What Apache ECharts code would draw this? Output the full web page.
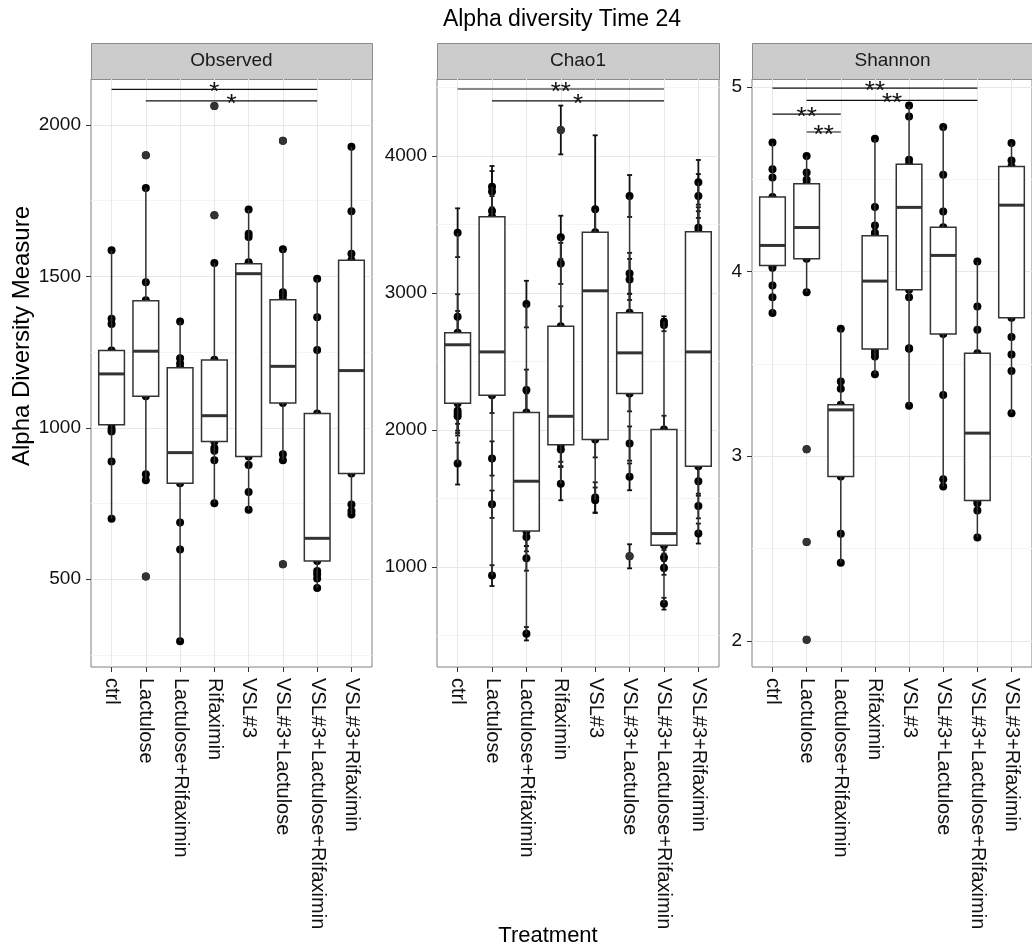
<!DOCTYPE html>
<html>
<head>
<meta charset="utf-8">
<script src="https://cdn.jsdelivr.net/npm/echarts@6/dist/echarts.min.js"></script>
<style>
  html, body { margin: 0; padding: 0; background: #fff; }
  #chart { width: 1032px; height: 949px; }
</style>
</head>
<body>
<div id="chart"></div>
<script>
// treatments, same order in every panel
var categories = ['ctrl', 'Lactulose', 'Lactulose+Rifaximin', 'Rifaximin', 'VSL#3',
                  'VSL#3+Lactulose', 'VSL#3+Lactulose+Rifaximin', 'VSL#3+Rifaximin'];

// box stats: [lower whisker, Q1, median, Q3, upper whisker]
var obsBox = [[700,1010,1178,1255,1586],[827,1104,1253,1420,1792],[295,817,918,1198,1351],[751,955,1040,1224,1544],
              [729,905,1509,1542,1721],[893,1082,1203,1423,1590],[471,560,635,1047,1492],[714,849,1189,1553,1928]];
var obsPts = [[1586,1360,1343,1255,1010,996,988,889,700],[1792,1481,1421,1253,1104,847,827],
              [1351,1230,1212,1198,817,687,598,295],[1544,1225,955,933,924,893,751],
              [1721,1641,1630,1547,1542,905,877,788,729],[1590,1448,1437,1423,1082,913,893],
              [1492,1365,1257,1047,560,527,516,502,471],[1928,1715,1575,1553,849,747,725,714]];
var obsOut = [[],[1900,509],[],[2063,1702],[],[1948,549],[],[]];

var chaoBox = [[1755,2195,2622,2709,3440],[937,2254,2570,3557,3776],[513,1263,1626,2128,2919],[1608,1893,2100,2758,3406],
               [1487,1930,3016,3443,3611],[1658,2266,2563,2855,3708],[732,1158,1244,2004,2790],[1244,1736,2570,3447,3808]];
// chao1 points: [value, se]
var chaoPts = [[[3440,178],[2826,165],[2709,160],[2195,150],[2140,145],[2118,140],[2100,140],[1755,153]],
               [[3776,151],[3740,150],[3598,150],[3557,150],[2254,130],[1792,125],[1458,100],[937,76]],
               [[2919,170],[2291,150],[2128,140],[1263,110],[1219,105],[1063,90],[513,49]],
               [[3406,158],[3216,150],[2758,145],[1893,125],[1857,120],[1608,121]],
               [[3611,540],[3443,160],[1930,130],[1508,110],[1487,93]],
               [[3708,153],[3143,150],[3099,150],[2855,140],[2266,130],[1901,125],[1658,98]],
               [[2790,40],[2766,45],[2004,100],[1158,60],[1069,55],[993,50],[732,43]],
               [[3808,163],[3708,160],[3476,150],[3447,150],[1736,110],[1625,105],[1445,90],[1244,73]]];
var chaoOut = [[],[],[],[[4190,178]],[],[[1078,88]],[],[]];

var shanBox = [[3.775,4.032,4.141,4.403,4.698],[3.888,4.069,4.238,4.475,4.625],[2.424,2.89,3.251,3.278,3.69],
               [3.444,3.58,3.948,4.193,4.718],[3.273,3.901,4.347,4.581,4.899],[2.836,3.661,4.087,4.24,4.782],
               [2.56,2.76,3.125,3.558,4.054],[3.233,3.749,4.359,4.568,4.695]];
var shanPts = [[4.698,4.554,4.509,4.403,4.032,4.02,3.924,3.861,3.775],[4.625,4.536,4.496,4.475,4.069,3.888],
               [3.69,3.404,3.365,3.278,2.89,2.58,2.424],[4.718,4.349,4.249,4.21,4.193,3.58,3.56,3.54,3.444],
               [4.899,4.839,4.605,4.581,3.901,3.861,3.585,3.582,3.273],[4.782,4.524,4.325,4.24,3.661,3.332,2.876,2.836],
               [4.054,3.81,3.684,3.558,2.76,2.746,2.706,2.56],[4.695,4.601,4.568,3.749,3.645,3.55,3.462,3.233]];
var shanOut = [[],[3.038,2.535,2.006],[],[],[],[],[],[]];

// significance brackets: [from category, to category, height], labels alongside
var obsSig = [[0,6,2118],[1,6,2080]];
var obsSigLbl = ['*','*'];
var chaoSig = [[0,6,4489],[1,6,4402]];
var chaoSigLbl = ['**','*'];
var shanSig = [[0,6,4.993],[1,6,4.926],[0,2,4.852],[1,2,4.755]];
var shanSigLbl = ['**','**','**','**'];

var yRanges = [[210,2152],[270,4562],[1.859,5.042]];
var yTicks = [[500,1000,1500,2000],[1000,2000,3000,4000],[2,3,4,5]];
var ySplit = [4,5,3];
var panelNames = ['Observed','Chao1','Shannon'];

var FONT = 'Liberation Sans, Arial, Helvetica, sans-serif';
var TOP = 79, HEIGHT = 588;
var panels = [{left:91, width:281},{left:437, width:282},{left:752, width:281}];

function boxData(box) {
  return box.map(function(b, i) { return [i].concat(b); });
}
function ptData(pts) {
  var out = [];
  pts.forEach(function(list, i) {
    list.forEach(function(v) { out.push(Array.isArray(v) ? [i, v[0], v[1]] : [i, v]); });
  });
  return out;
}

function renderBox(params, api) {
  var x = api.value(0);
  var lo = api.coord([x, api.value(1)]);
  var q1 = api.coord([x, api.value(2)]);
  var md = api.coord([x, api.value(3)]);
  var q3 = api.coord([x, api.value(4)]);
  var hi = api.coord([x, api.value(5)]);
  var w = api.size([0.75, 0], [x, api.value(3)])[0];
  var cx = lo[0];
  var st = {stroke:'#333', lineWidth:1.5};
  return {type:'group', children:[
    {type:'line', shape:{x1:cx, y1:hi[1], x2:cx, y2:q3[1]}, style:st},
    {type:'line', shape:{x1:cx, y1:q1[1], x2:cx, y2:lo[1]}, style:st},
    {type:'rect', shape:{x:cx - w/2, y:q3[1], width:w, height:q1[1] - q3[1]},
     style:{fill:'#fff', stroke:'#333', lineWidth:1.5}},
    {type:'line', shape:{x1:cx - w/2, y1:md[1], x2:cx + w/2, y2:md[1]}, style:{stroke:'#333', lineWidth:3}}
  ]};
}

function renderErr(params, api) {
  var x = api.value(0), v = api.value(1), se = api.value(2);
  var t = api.coord([x, v + se]), b = api.coord([x, v - se]);
  var st = {stroke:'#111', lineWidth:1.8};
  return {type:'group', children:[
    {type:'line', shape:{x1:t[0], y1:t[1], x2:b[0], y2:b[1]}, style:st},
    {type:'line', shape:{x1:t[0]-2.5, y1:t[1], x2:t[0]+2.5, y2:t[1]}, style:st},
    {type:'line', shape:{x1:b[0]-2.5, y1:b[1], x2:b[0]+2.5, y2:b[1]}, style:st}
  ]};
}

function sigRenderer(labels) {
  return function(params, api) {
    var a = api.coord([api.value(0), api.value(2)]);
    var b = api.coord([api.value(1), api.value(2)]);
    var fs = 26;
    return {type:'group', children:[
      {type:'line', shape:{x1:a[0], y1:a[1], x2:b[0], y2:b[1]}, style:{stroke:'#111', lineWidth:1.2}},
      {type:'text', x:(a[0] + b[0]) / 2, y:a[1] + 0.14 * fs,
       style:{text:labels[params.dataIndex], fontSize:fs, fontFamily:FONT, fill:'#111',
              align:'center', verticalAlign:'middle'}}
    ]};
  };
}

var grids = [], xAxes = [], yAxes = [], series = [], graphics = [];
var sets = [
  {box:obsBox, pts:obsPts, out:obsOut, sig:obsSig, lbl:obsSigLbl, err:false},
  {box:chaoBox, pts:chaoPts, out:chaoOut, sig:chaoSig, lbl:chaoSigLbl, err:true},
  {box:shanBox, pts:shanPts, out:shanOut, sig:shanSig, lbl:shanSigLbl, err:false}
];

sets.forEach(function(s, p) {
  grids.push({left:panels[p].left, width:panels[p].width, top:TOP, height:HEIGHT,
              show:true, borderColor:'#808080', borderWidth:1, backgroundColor:'#fff'});
  xAxes.push({
    type:'value', gridIndex:p, min:-0.6, max:7.6, splitNumber:8,
    axisLine:{show:false, onZero:false},
    axisTick:{show:true, customValues:[0,1,2,3,4,5,6,7], length:5, lineStyle:{color:'#333'}},
    axisLabel:{customValues:[0,1,2,3,4,5,6,7], rotate:-90, margin:11, fontSize:20, color:'#111',
               fontFamily:FONT, formatter:function(v){ return categories[Math.round(v)]; }},
    splitLine:{show:true, lineStyle:{color:'#e8e8e8', width:1}}
  });
  yAxes.push({
    type:'value', gridIndex:p, min:yRanges[p][0], max:yRanges[p][1], splitNumber:ySplit[p],
    axisLine:{show:false, onZero:false},
    axisTick:{show:true, customValues:yTicks[p], length:5, lineStyle:{color:'#333'}},
    axisLabel:{customValues:yTicks[p], margin:10, fontSize:19, color:'#111', fontFamily:FONT,
               formatter:function(v){ return String(v); }},
    splitLine:{show:true, lineStyle:{color:'#e8e8e8', width:1}},
    minorTick:{show:false, splitNumber:2},
    minorSplitLine:{show:true, lineStyle:{color:'#f4f4f4', width:1}}
  });
  if (s.err) {
    series.push({type:'custom', xAxisIndex:p, yAxisIndex:p, z:1, renderItem:renderErr,
                 encode:{x:0, y:1}, data:ptData(s.pts).concat(ptData(s.out))});
  }
  series.push({type:'scatter', xAxisIndex:p, yAxisIndex:p, z:2, symbolSize:8,
               itemStyle:{color:'#000', opacity:1}, data:ptData(s.pts).concat(ptData(s.out))});
  series.push({type:'custom', xAxisIndex:p, yAxisIndex:p, z:3, renderItem:renderBox,
               encode:{x:0, y:[1,2,3,4,5]}, data:boxData(s.box)});
  series.push({type:'scatter', xAxisIndex:p, yAxisIndex:p, z:4, symbolSize:8,
               itemStyle:{color:'#333', opacity:1}, data:ptData(s.out)});
  series.push({type:'custom', xAxisIndex:p, yAxisIndex:p, z:5, renderItem:sigRenderer(s.lbl),
               encode:{x:[0,1], y:2}, data:s.sig});

  // facet strip
  graphics.push({type:'rect', left:panels[p].left, top:43,
                 shape:{width:panels[p].width, height:36},
                 style:{fill:'#cccccc', stroke:'#8c8c8c', lineWidth:1}});
  graphics.push({type:'text', x:panels[p].left + panels[p].width / 2, y:61,
                 style:{text:panelNames[p], fontSize:19, fontFamily:FONT, fill:'#1a1a1a',
                        align:'center', verticalAlign:'middle'}});
});

graphics.push({type:'text', x:562, y:20,
               style:{text:'Alpha diversity Time 24', fontSize:23, fontFamily:FONT, fill:'#000',
                      align:'center', verticalAlign:'middle'}});
graphics.push({type:'text', x:548, y:936,
               style:{text:'Treatment', fontSize:22, fontFamily:FONT, fill:'#000',
                      align:'center', verticalAlign:'middle'}});
graphics.push({type:'text', x:22, y:336, rotation:Math.PI / 2,
               style:{text:'Alpha Diversity Measure', fontSize:24, fontFamily:FONT, fill:'#000',
                      align:'center', verticalAlign:'middle'}});

var chart = echarts.init(document.getElementById('chart'));
chart.setOption({
  animation:false,
  backgroundColor:'#fff',
  textStyle:{fontFamily:FONT},
  grid:grids,
  xAxis:xAxes,
  yAxis:yAxes,
  series:series,
  graphic:graphics
});
</script>
</body>
</html>
